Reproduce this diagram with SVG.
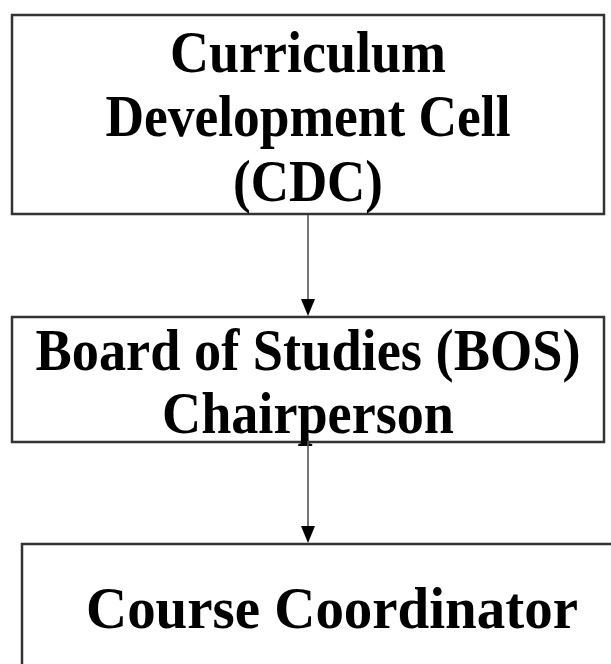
<svg xmlns="http://www.w3.org/2000/svg" width="611" height="664" viewBox="0 0 611 664">
<style>
.box{fill:#fff;stroke:#333;stroke-width:2.5}
.t{font-family:"Liberation Serif","Times New Roman",serif;font-weight:bold;font-size:59px;fill:#000;text-anchor:middle}
.c{stroke:#555;stroke-width:1.6;fill:none}
</style>
<rect width="611" height="664" fill="#fff"/>
<g id="node-cdc">
<rect class="box" x="12" y="15" width="592" height="199"/>
<text class="t" x="308" y="72" textLength="276" lengthAdjust="spacingAndGlyphs">Curriculum</text>
<text class="t" x="308" y="136" textLength="405" lengthAdjust="spacingAndGlyphs">Development Cell</text>
<text class="t" x="308" y="201" textLength="150" lengthAdjust="spacingAndGlyphs">(CDC)</text>
</g>
<g id="node-bos">
<rect class="box" x="12" y="317" width="592" height="125"/>
<text class="t" x="308" y="370" textLength="545" lengthAdjust="spacingAndGlyphs">Board of Studies (BOS)</text>
<text class="t" x="308" y="433" textLength="292" lengthAdjust="spacingAndGlyphs">Chairperson</text>
</g>
<g id="node-cc">
<rect class="box" x="22" y="544" width="610" height="140"/>
<text class="t" x="332" y="628" textLength="492" lengthAdjust="spacingAndGlyphs">Course Coordinator</text>
</g>
<g id="connectors">
<line class="c" x1="308" y1="215" x2="308" y2="300"/>
<path d="M301,299 L315,299 L308,316 Z" fill="#000"/>
<line class="c" x1="308" y1="441" x2="308" y2="527"/>
<path d="M301,526 L315,526 L308,543 Z" fill="#000"/>
</g>
</svg>
